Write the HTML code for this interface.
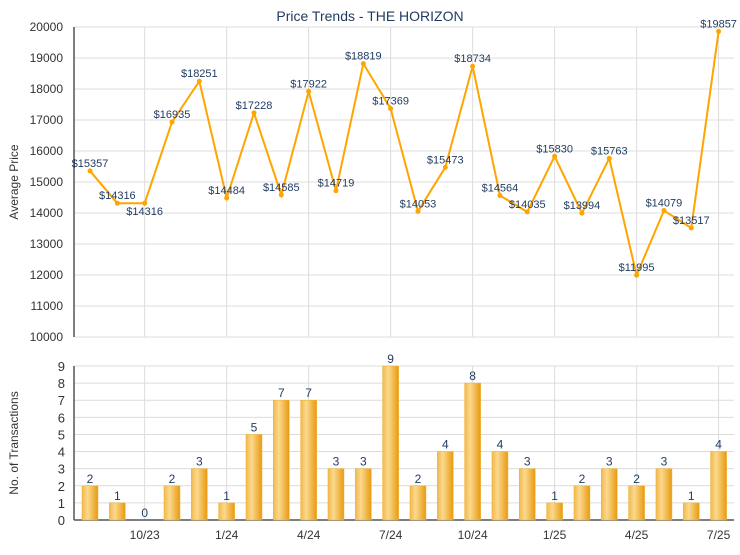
<!DOCTYPE html>
<html><head><meta charset="utf-8"><style>
body{margin:0;background:#fff;font-family:"Liberation Sans",Arial,sans-serif}
svg text{font-family:"Liberation Sans",Arial,sans-serif}
</style></head><body>
<svg id="c" width="740" height="550" xmlns="http://www.w3.org/2000/svg">
<defs>
<linearGradient id="bg" x1="0" x2="1" y1="0" y2="0">
<stop offset="0" stop-color="#f2b84a"/><stop offset="0.35" stop-color="#fbd98e"/><stop offset="1" stop-color="#e89a10"/>
</linearGradient>
</defs>
<text x="370" y="21" text-anchor="middle" font-size="14" fill="#1f3a5f">Price Trends - THE HORIZON</text>
<text transform="translate(18,182) rotate(-90)" text-anchor="middle" font-size="12" fill="#333">Average Price</text>
<text transform="translate(18,443) rotate(-90)" text-anchor="middle" font-size="12" fill="#333">No. of Transactions</text>
<g id="g"></g>
</svg>
<script>
const months=["8/23","9/23","10/23","11/23","12/23","1/24","2/24","3/24","4/24","5/24","6/24","7/24","8/24","9/24","10/24","11/24","12/24","1/25","2/25","3/25","4/25","5/25","6/25","7/25"];
const prices=[15357,14316,14316,16935,18251,14484,17228,14585,17922,14719,18819,17369,14053,15473,18734,14564,14035,15830,13994,15763,11995,14079,13517,19857];
const counts=[2,1,0,2,3,1,5,7,7,3,3,9,2,4,8,4,3,1,2,3,2,3,1,4];
const priceTicks=[10000,11000,12000,13000,14000,15000,16000,17000,18000,19000,20000];
const countTicks=[0,1,2,3,4,5,6,7,8,9];
const xLabels=["10/23","1/24","4/24","7/24","10/24","1/25","4/25","7/25"];

const NS="http://www.w3.org/2000/svg",g=document.getElementById('g');
const L=74,R=734,T1=27,B1=337,T2=366,B2=520;
const x=i=>90+i*27.33;
const y1=v=>B1-(v-10000)/10000*(B1-T1);
const y2=v=>B2-v/9*(B2-T2);
function mk(t,a,txt){const e=document.createElementNS(NS,t);for(const k in a)e.setAttribute(k,a[k]);if(txt!=null)e.textContent=txt;g.appendChild(e);return e;}

priceTicks.forEach(v=>{
 const l=mk('line',{x1:L,x2:R,y1:y1(v),y2:y1(v),stroke:'#dcdcdc'});
 
 
 const t=mk('text',{x:L-11,y:y1(v)+4,'text-anchor':'end','font-size':12,fill:'#333'},v);
 
 
});
countTicks.forEach(v=>{
 const l=mk('line',{x1:L,x2:R,y1:y2(v),y2:y2(v),stroke:'#dcdcdc'});
 
 
 const t=mk('text',{x:L-9,y:y2(v)+5,'text-anchor':'end','font-size':13,fill:'#333'},v);
 
 
});
xLabels.forEach(m=>{
 const i=months.indexOf(m),xx=x(i);
 [[T1,B1],[T2,B2]].forEach(([a,b])=>{
  const l=mk('line',{x1:xx,x2:xx,y1:a,y2:b,stroke:'#dcdcdc'});
  
  
 });
 const t=mk('text',{x:xx,y:539,'text-anchor':'middle','font-size':12,fill:'#333'},m);
 
 
});
[[L,T1,L,B1],[L,T2,L,B2],[L,B2,R,B2]].forEach(c=>{
 const l=mk('line',{x1:c[0],y1:c[1],x2:c[2],y2:c[3],stroke:'#555','stroke-width':1.5});
 
 
});
const pl=mk('polyline',{points:prices.map((v,i)=>x(i)+','+y1(v)).join(' '),fill:'none',stroke:'#ffa500','stroke-width':2});


prices.forEach((v,i)=>{
 const c=mk('circle',{cx:x(i),cy:y1(v),r:2.5,fill:'#ffa500'});
 
 
 const below=(i===2);
 const t=mk('text',{x:x(i),y:below?y1(v)+12:y1(v)-4,'text-anchor':'middle','font-size':11,fill:'#1f3a5f'},'$'+v);
 
 
});
counts.forEach((v,i)=>{
 if(v>0){
  const b=mk('rect',{x:x(i)-8,y:y2(v),width:16,height:B2-y2(v),fill:'url(#bg)',stroke:'#f0b030','stroke-width':0.5});
  
  
 }
 const t=mk('text',{x:x(i),y:y2(v)-3,'text-anchor':'middle','font-size':12,fill:'#1f3a5f'},v);
 
 
});
</script>
</body></html>
